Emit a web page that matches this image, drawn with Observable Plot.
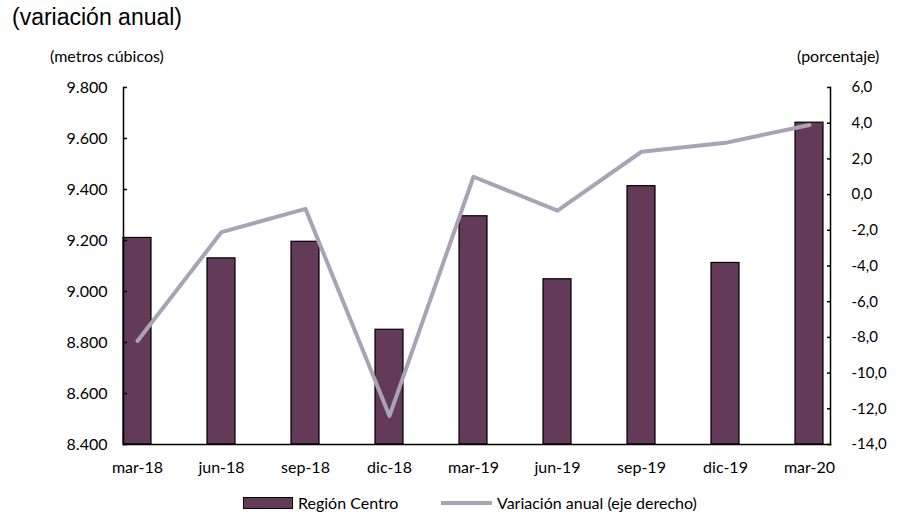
<!DOCTYPE html>
<html>
<head>
<meta charset="utf-8">
<script src="https://cdn.jsdelivr.net/npm/d3@7"></script>
<script src="https://cdn.jsdelivr.net/npm/@observablehq/plot@0.6"></script>
<style>
  html, body { margin: 0; padding: 0; background: #fff; }
  #wrap { position: relative; width: 924px; height: 527px; font-family: Lato, "Open Sans", sans-serif; color: #000; }
  #title { position: absolute; left: 12px; top: 4px; font-family: "Liberation Sans", Arial, sans-serif; font-size: 23px; }
  .atitle { position: absolute; top: 46px; font-size: 16px; }
  #chart { position: absolute; left: 0; top: 40px; }
  #legend { position: absolute; top: 493px; left: 0; width: 924px; font-size: 16px; }
  .li { position: absolute; display: flex; align-items: center; }
  .sw-bar { width: 48px; height: 10px; background: #633A57; border: 1px solid #000; margin-right: 5px; }
  .sw-line { width: 51px; height: 4px; background: #A8A4B6; margin-right: 5px; }
</style>
</head>
<body>
<div id="wrap">
  <div id="title">(variación anual)</div>
  <div class="atitle" style="left:50px">(metros cúbicos)</div>
  <div class="atitle" style="left:797px">(porcentaje)</div>
  <div id="chart"></div>
  <div id="legend">
    <div class="li" style="left:243px"><div class="sw-bar"></div>Región Centro</div>
    <div class="li" style="left:441px"><div class="sw-line"></div>Variación anual (eje derecho)</div>
  </div>
</div>
<script>
const periods = ["mar-18","jun-18","sep-18","dic-18","mar-19","jun-19","sep-19","dic-19","mar-20"];
const volumen = [9210, 9130, 9195, 8850, 9295, 9048, 9413, 9112, 9662];
const variacion = [-8.2, -2.1, -0.8, -12.4, 1.0, -0.9, 2.4, 2.9, 3.9];
const leftTicks = [8400, 8600, 8800, 9000, 9200, 9400, 9600, 9800];
const rightTicks = [-14, -12, -10, -8, -6, -4, -2, 0, 2, 4, 6];

const yMin = 8400, yMax = 9800, rMin = -14, rMax = 6;
const toLeft = v => yMin + (v - rMin) / (rMax - rMin) * (yMax - yMin);
const fromLeft = y => rMin + (y - yMin) / (yMax - yMin) * (rMax - rMin);

const bars = periods.map((p, i) => ({p, v: volumen[i]}));
const line = periods.map((p, i) => ({p, r: variacion[i]}));

const chart = Plot.plot({
  width: 924,
  height: 440,
  marginTop: 47,
  marginBottom: 36,
  marginLeft: 123,
  marginRight: 94,
  style: {fontFamily: "Lato, 'Open Sans', sans-serif", fontSize: "16px", color: "#000"},
  x: {type: "band", domain: periods, paddingInner: 0.67, paddingOuter: 0, align: 0, label: null},
  y: {domain: [yMin, yMax], label: null},
  marks: [
    Plot.barY(bars, {x: "p", y1: yMin, y2: "v", fill: "#633A57", stroke: "#000", strokeWidth: 1.2}),
    Plot.lineY(line, {x: "p", y: d => toLeft(d.r), stroke: "#A8A4B6", strokeWidth: 4}),
    Plot.frame({anchor: "left", stroke: "#000", strokeWidth: 1.5}),
    Plot.frame({anchor: "right", stroke: "#000", strokeWidth: 1.5}),
    Plot.frame({anchor: "bottom", stroke: "#000", strokeWidth: 1.5}),
    Plot.axisY({anchor: "left", ticks: leftTicks, tickSize: -4, tickPadding: 20, strokeWidth: 1.5,
      tickFormat: d => (d / 1000).toFixed(3), label: null}),
    Plot.axisY({anchor: "right", ticks: rightTicks.map(toLeft), tickSize: -4, tickPadding: 25, strokeWidth: 1.5,
      fontSize: 15, tickFormat: d => fromLeft(d).toFixed(1).replace(".", ","), label: null}),
    Plot.axisX({tickSize: 0, tickPadding: 17, label: null})
  ]
});
document.getElementById("chart").appendChild(chart);
</script>
</body>
</html>
